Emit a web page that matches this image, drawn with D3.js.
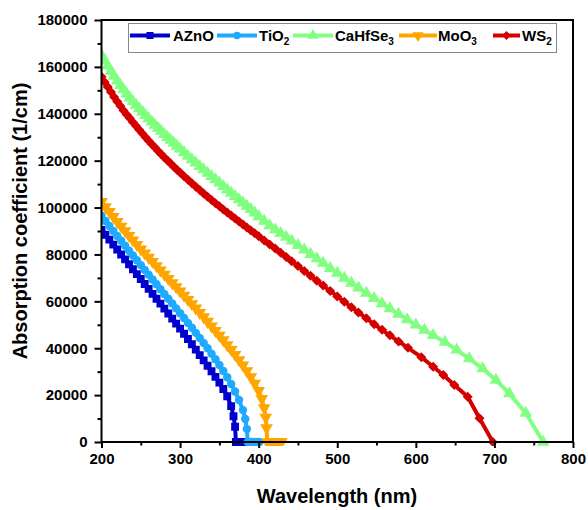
<!DOCTYPE html>
<html><head><meta charset="utf-8">
<script src="https://cdn.jsdelivr.net/npm/d3@7"></script>
<style>
body{margin:0;background:#fff}
svg{display:block}
text{font-family:"Liberation Sans",Arial,sans-serif;font-weight:bold;fill:#000}
</style>
</head><body>
<svg id="c" width="588" height="510"></svg>
<script>
// ---------------- DATA ----------------
const seriesNames = ["AZnO", "TiO2", "CaHfSe3", "MoO3", "WS2"];

const wlAZnO  = [200,205,210,215,220,225,230,235,240,245,250,255,260,265,270,275,280,285,290,295,300,305,310,315,320,325,330,335,340,345,350,355,360,365,368,370,371,374,377,380,384];
const absAZnO = [90500,88400,86300,84200,82100,80000,77900,75800,73700,71600,69500,67400,65300,63200,61100,59000,56900,54800,52650,50500,48350,46150,43950,41700,39400,37050,34800,32500,30200,27800,25300,22600,19500,15300,11000,6500,0,0,0,0,0];

const wlTiO2  = [200,205,210,215,220,225,230,235,240,245,250,255,260,265,270,275,280,285,290,295,300,305,310,315,320,325,330,335,340,345,350,355,360,365,370,375,380,383,385,386,389,392,395,398,401];
const absTiO2 = [96500,94300,92150,90000,87900,85800,83700,81600,79550,77500,75450,73400,71350,69300,67250,65200,63150,61100,59050,57000,54950,52900,50800,48700,46550,44400,42200,39950,37650,35300,32850,30300,27600,24700,21500,17900,13600,9800,5500,0,0,0,0,0,0];

const wlCaHfSe3  = [200,204,208,212,216,220,224,228,232,236,240,244,248,252,256,260,264,268,272,276,280,284,288,292,296,300,305,310,315,320,325,330,335,340,345,350,355,360,365,370,375,380,385,390,395,400,407,414,421,428,435,442,450,458,466,474,482,491,500,509,518,527,537,547,557,567,578,589,600,611,622,637,652,668,685,702,719,740,762];
const absCaHfSe3 = [165000,162680,160420,158220,156100,154100,152180,150320,148520,146810,145250,143730,142240,140780,139350,137950,136570,135220,133890,132580,131280,129960,128730,127480,126250,125030,123500,122000,120500,119100,117600,116200,114700,113300,111900,110500,109100,107600,106200,104800,103400,102000,100600,99200,97700,96200,94200,92300,90600,89000,87400,85800,83900,82000,80100,78200,76300,74100,72000,69885,67794,65720,63470,61260,59060,56895,54570,52260,49950,47700,45500,42600,39300,35600,31300,26400,20700,12300,0];

const wlMoO3  = [200,205,210,215,220,225,230,235,240,245,250,255,260,265,270,275,280,285,290,295,300,305,310,315,320,325,330,335,340,345,350,355,360,365,370,375,380,385,390,395,400,404,407,409,410,411,415,419,423,426,429];
const absMoO3 = [102500,100300,98200,96100,94000,92000,90000,88000,86100,84200,82300,80500,78700,76900,75100,73300,71500,69700,67900,66100,64300,62500,60700,58900,57050,55200,53300,51380,49440,47480,45500,43490,41450,39370,37240,35040,32760,30360,27800,25000,21900,18500,14500,10500,6000,0,0,0,0,0,0];

const wlWS2  = [200,204,208,212,216,220,224,228,232,236,240,244,248,252,256,260,264,268,272,276,280,284,288,292,296,300,305,310,315,320,325,330,335,340,345,350,355,360,365,370,375,380,385,390,395,400,407,414,421,428,435,442,450,458,466,474,482,491,500,509,518,527,537,547,557,567,578,590,607,622,635,649,666,681,698];
const absWS2 = [155800,153560,151380,149260,147200,145200,143280,141420,139700,138080,136400,134760,133150,131570,130020,128500,127020,125570,124150,122760,121400,120070,118750,117450,116160,114900,113350,111830,110340,108880,107440,106020,104620,103240,101880,100540,99220,97920,96620,95330,94050,92780,91520,90260,89000,87750,86000,84250,82500,80750,78950,77130,75050,72970,70890,68810,66730,64400,62100,59800,57510,55250,52750,50250,47850,45500,42920,40150,36200,32100,28600,24300,19300,10100,0];

const xMajorTicks = [200,300,400,500,600,700,800];
const xMinorTicks = [250,350,450,550,650,750];
const yMajorTicks = [0,20000,40000,60000,80000,100000,120000,140000,160000,180000];
const yMinorTicks = [10000,30000,50000,70000,90000,110000,130000,150000,170000];
const xTitle = "Wavelength (nm)";
const yTitle = "Absorption coefficient (1/cm)";

// ---------------- STYLE ----------------
const colors = {AZnO:"#0000CC", TiO2:"#1EAAFF", CaHfSe3:"#80FF80", MoO3:"#FFA500", WS2:"#D40000"};
const labelParts = {AZnO:[["AZnO",0]], TiO2:[["TiO",0],["2",1]], CaHfSe3:[["CaHfSe",0],["3",1]], MoO3:[["MoO",0],["3",1]], WS2:[["WS",0],["2",1]]};
const sym = {
  AZnO:{type:d3.symbolSquare,size:62,rot:0},
  TiO2:{type:d3.symbolCircle,size:56,rot:0},
  CaHfSe3:{type:d3.symbolTriangle,size:70,rot:0},
  MoO3:{type:d3.symbolTriangle,size:70,rot:180},
  WS2:{type:d3.symbolSquare,size:50,rot:45}
};
const series = [
  {name:"AZnO", wl:wlAZnO, v:absAZnO},
  {name:"TiO2", wl:wlTiO2, v:absTiO2},
  {name:"CaHfSe3", wl:wlCaHfSe3, v:absCaHfSe3},
  {name:"MoO3", wl:wlMoO3, v:absMoO3},
  {name:"WS2", wl:wlWS2, v:absWS2}
];

const L=101.5, R=573, T=20, B=442;
const svg = d3.select("#c");
const x = d3.scaleLinear().domain([200,800]).range([L,R]);
const y = d3.scaleLinear().domain([0,180000]).range([B,T]);

svg.append("defs").append("clipPath").attr("id","clip")
  .append("rect").attr("x",L).attr("y",T).attr("width",R-L).attr("height",B-T+4);

const plot = svg.append("g").attr("clip-path","url(#clip)");
const line = d3.line().x(d=>x(d[0])).y(d=>y(d[1]));

series.forEach(s=>{
  const pts = s.wl.map((w,i)=>[w,s.v[i]]);
  const g = plot.append("g");
  g.append("path").datum(pts).attr("d",line)
    .attr("fill","none").attr("stroke",colors[s.name]).attr("stroke-width",4).attr("stroke-linejoin","round");
  const sd = sym[s.name];
  const p = d3.symbol().type(sd.type).size(sd.size)();
  g.selectAll("path.m").data(pts).enter().append("path").attr("class","m")
    .attr("d",p).attr("fill",colors[s.name])
    .attr("transform",d=>`translate(${x(d[0])},${y(d[1])}) rotate(${sd.rot})`);
});

// ---------------- AXES ----------------
const xAxisMajor = d3.axisBottom(x).tickValues(xMajorTicks).tickSize(6).tickPadding(5).tickFormat(d3.format("d"));
const xAxisMinor = d3.axisBottom(x).tickValues(xMinorTicks).tickSize(3.5).tickFormat("");
const yAxisMajor = d3.axisLeft(y).tickValues(yMajorTicks).tickSize(7).tickPadding(7).tickFormat(d3.format("d"));
const yAxisMinor = d3.axisLeft(y).tickValues(yMinorTicks).tickSize(4).tickFormat("");

function styleAxis(g){
  g.select(".domain").remove();
  g.selectAll(".tick line").attr("stroke","#000").attr("stroke-width",2);
  g.selectAll(".tick text").attr("font-size",15).attr("font-family","Liberation Sans, Arial, sans-serif").attr("font-weight","bold").attr("fill","#000");
}
svg.append("g").attr("transform",`translate(0,${B})`).call(xAxisMajor).call(styleAxis);
svg.append("g").attr("transform",`translate(0,${B})`).call(xAxisMinor).call(styleAxis);
svg.append("g").attr("transform",`translate(${L},0)`).call(yAxisMajor).call(styleAxis);
svg.append("g").attr("transform",`translate(${L},0)`).call(yAxisMinor).call(styleAxis);

svg.append("rect").attr("x",L).attr("y",T).attr("width",R-L).attr("height",B-T)
  .attr("fill","none").attr("stroke","#000").attr("stroke-width",2);

svg.append("text").attr("x",337).attr("y",503).attr("text-anchor","middle").attr("font-size",20).text(xTitle);
svg.append("text").attr("transform","translate(27,221) rotate(-90)").attr("text-anchor","middle").attr("font-size",20).text(yTitle);

// ---------------- LEGEND ----------------
const legendBox = {x:128.5, y:23.5, w:428, h:29};
const legendPos = {AZnO:[130,170,173], TiO2:[217,257,259], CaHfSe3:[293,333,335], MoO3:[399,437,438], WS2:[493,520,522]};
const lg = svg.append("g");
lg.append("rect").attr("x",legendBox.x).attr("y",legendBox.y).attr("width",legendBox.w).attr("height",legendBox.h)
  .attr("fill","#fff").attr("stroke","#888").attr("stroke-width",1);
seriesNames.forEach(n=>{
  const [a,b,t] = legendPos[n];
  const ly = 35.5;
  lg.append("line").attr("x1",a).attr("x2",b).attr("y1",ly).attr("y2",ly).attr("stroke",colors[n]).attr("stroke-width",4);
  const sd = sym[n];
  lg.append("path").attr("d",d3.symbol().type(sd.type).size(sd.size*0.8)()).attr("fill",colors[n])
    .attr("transform",`translate(${(a+b)/2},${ly}) rotate(${sd.rot})`);
  const txt = lg.append("text").attr("x",t).attr("y",41).attr("font-size",15);
  labelParts[n].forEach(([s,sub])=>{
    const ts = txt.append("tspan").text(s);
    if(sub){ ts.attr("font-size",10).attr("dy",4); }
  });
});
</script>
</body></html>
